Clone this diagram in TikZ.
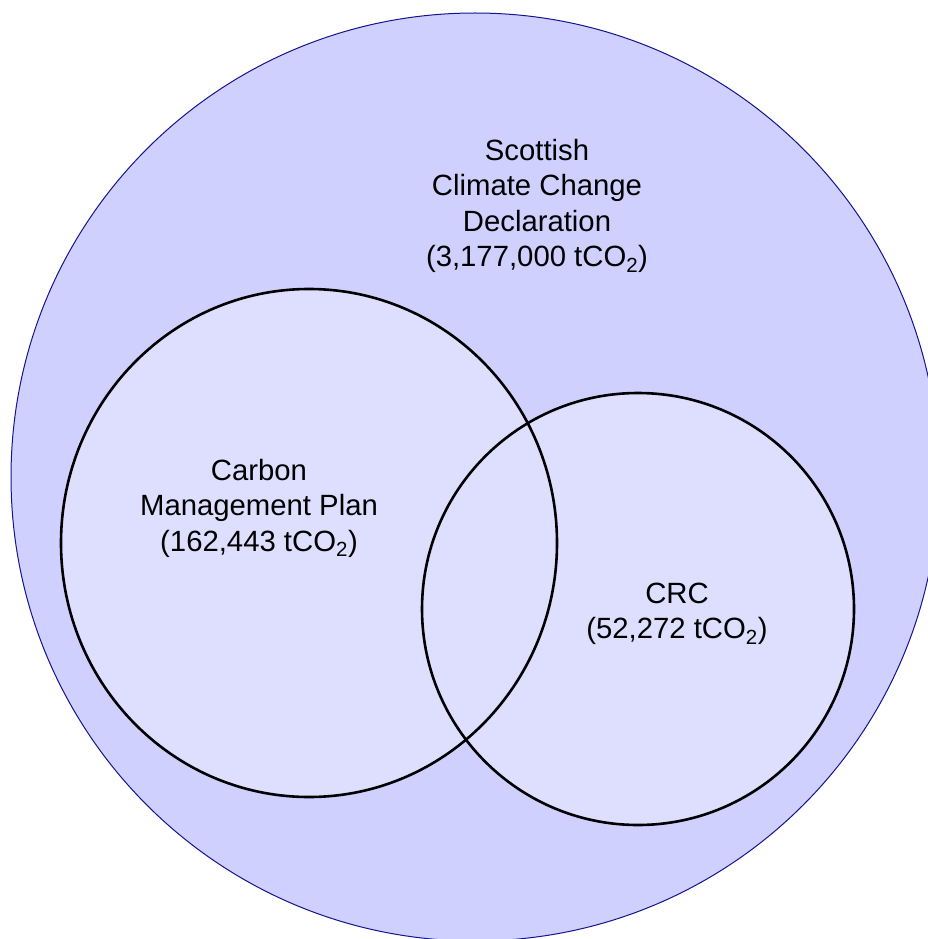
\documentclass[tikz,border=0pt]{standalone}
\usepackage{fontspec}
\setmainfont{Liberation Sans}
\definecolor{outerfill}{RGB}{208,208,255}
\definecolor{outerline}{RGB}{20,20,140}
\definecolor{innerfill}{RGB}{222,222,255}
\begin{document}
\begin{tikzpicture}[x=1pt,y=-1pt,
  label text/.style={align=center,font=\fontsize{29.3}{35.5}\selectfont,inner sep=0pt},
  inner ring/.style={draw=black,line width=2.6pt}]
\useasboundingbox (0,0) rectangle (928,939);
\clip (0,0) rectangle (928,939);
% outer set: Scottish Climate Change Declaration
\path[fill=outerfill,draw=outerline,line width=1pt] (475,477) circle[radius=464];
% inner sets
\path[fill=innerfill] (309,543) ellipse[x radius=248,y radius=254];
\path[fill=innerfill] (638,609) ellipse[x radius=216,y radius=216];
\path[inner ring] (309,543) ellipse[x radius=248,y radius=254];
\path[inner ring] (638,609) ellipse[x radius=216,y radius=216];
% labels
\node[label text] (sccd) at (537,206) {Scottish\\Climate Change\\Declaration\\(3,177,000 tCO\textsubscript{2})};
\node[label text] (cmp) at (259,508) {Carbon\\Management Plan\\(162,443 tCO\textsubscript{2})};
\node[label text] (crc) at (677,614) {CRC\\(52,272 tCO\textsubscript{2})};
\end{tikzpicture}
\end{document}
